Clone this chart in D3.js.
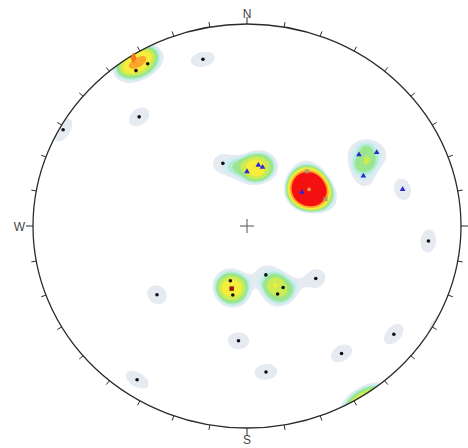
<!DOCTYPE html>
<html>
<head>
<meta charset="utf-8">
<script src="https://cdn.jsdelivr.net/npm/d3@7"></script>
<style>
  html, body { margin: 0; padding: 0; background: #fff; }
  svg { display: block; }
</style>
</head>
<body>
<svg id="net" width="468" height="448"></svg>
<script>
// ---- Measurements (trend / plunge in degrees, lower hemisphere) ----
// Poles to planes (black dots); count = coincident measurements
const poleTrend  = [330, 326, 346, 317, 299, 340, 231, 196, 191, 160, 151, 157, 129, 184, 128, 145, 214, 173, 95];
const polePlunge = [8,   8,   16,  27,  2,   63,  45,  67,  61.5, 69, 61.5, 60,  56,  42.5, 14, 24,  9,   28,  16];
const poleCount  = [1,   1,   1,   1,   1,   1,   1,   1,   1,   1,   1,   1,   1,   1,   1,   1,   1,   1,   1];

// Lineations (blue triangles)
const lineTrend  = [10, 14,   0,  57, 56, 59, 65.5, 76];
const linePlunge = [65, 65.5, 68, 65, 37, 30, 40,   26];
const lineCount  = [1,  1,    1,  1,  1,  1,  1,    1];

// Fold axes (dark red squares)
const axisTrend  = [193];
const axisPlunge = [64];
const axisCount  = [1];

// Intersections (tan squares)
const interTrend  = [46, 70];
const interPlunge = [58, 58];
const interCount  = [1, 1];

// Cluster centre (orange dot)
const clusterTrend  = [58];
const clusterPlunge = [62];
const clusterCount  = [8];

// Near-horizontal group (orange diamond)
const flatTrend  = [327.5];
const flatPlunge = [1.5];
const flatCount  = [2];

// Contour levels and fills
const levels = [0.85, 1.05, 1.25, 1.45, 1.85, 2.3, 3.0, 4.0];
const levelColors = ["#e6eaf1", "#d2eef3", "#b2ebd6", "#9be58c", "#cdec52", "#f7ee3c", "#fba62c", "#f41010"];

// Primitive ticks (azimuth, degrees)
const tickAz = d3.range(0, 360, 10);
const cardinals = [{az: 0, label: "N"}, {az: 180, label: "S"}, {az: 270, label: "W"}];

// ---- Geometry ----
const cx = 247, cy = 226, rx = 214, ry = 202;
const x = d3.scaleLinear().domain([-1, 1]).range([cx - rx, cx + rx]);
const y = d3.scaleLinear().domain([-1, 1]).range([cy + ry, cy - ry]);
const rad = Math.PI / 180;

// Equal-area (Schmidt) lower-hemisphere projection to the unit disk
function toDisk(trend, plunge) {
  const t = trend * rad, p = plunge * rad;
  const r = Math.SQRT2 * Math.sin((Math.PI / 2 - p) / 2);
  return [r * Math.sin(t), r * Math.cos(t)];
}
function toVec(trend, plunge) {
  const t = trend * rad, p = plunge * rad;
  return [Math.cos(p) * Math.sin(t), Math.cos(p) * Math.cos(t), Math.sin(p)];
}
function diskToVec(u, v) {
  const r = Math.hypot(u, v);
  if (r < 1e-9) return [0, 0, 1];
  const rc = Math.min(r, Math.SQRT2 - 1e-6);
  const th = 2 * Math.asin(rc / Math.SQRT2);
  const s = Math.sin(th);
  return [s * u / r, s * v / r, Math.cos(th)];
}

function zipSet(tr, pl, ct) {
  return tr.map((t, i) => ({trend: t, plunge: pl[i], count: ct[i]}));
}
const poles = zipSet(poleTrend, polePlunge, poleCount);
const lines = zipSet(lineTrend, linePlunge, lineCount);
const axes = zipSet(axisTrend, axisPlunge, axisCount);
const inters = zipSet(interTrend, interPlunge, interCount);
const clusters = zipSet(clusterTrend, clusterPlunge, clusterCount);
const flats = zipSet(flatTrend, flatPlunge, flatCount);
const all = [...poles, ...lines, ...axes, ...inters, ...clusters, ...flats];
const vecs = all.map(d => ({v: toVec(d.trend, d.plunge), w: d.count}));

// ---- Spherical density (axial, flat-topped kernel in angular distance) ----
const kernelWidth = 0.119;   // radians
const step = 2;
const x0 = cx - rx - 6, y0 = cy - ry - 6;
const nx = Math.ceil((2 * rx + 12) / step), ny = Math.ceil((2 * ry + 12) / step);
const grid = new Float64Array(nx * ny);
for (let j = 0; j < ny; j++) {
  for (let i = 0; i < nx; i++) {
    const px = x0 + (i + 0.5) * step, py = y0 + (j + 0.5) * step;
    const g = diskToVec(x.invert(px), y.invert(py));
    let s = 0;
    for (const d of vecs) {
      const c = Math.min(1, Math.abs(g[0] * d.v[0] + g[1] * d.v[1] + g[2] * d.v[2]));
      const a = Math.acos(c) / kernelWidth;
      if (a < 3) s += d.w * Math.exp(-a * a * a);
    }
    grid[i + j * nx] = s;
  }
}
const contours = d3.contours().size([nx, ny]).thresholds(levels)(grid);
const gridPath = d3.geoPath(d3.geoIdentity().scale(step).translate([x0, y0]));

// ---- Drawing ----
const svg = d3.select("#net");
svg.append("defs").append("clipPath").attr("id", "prim")
  .append("ellipse").attr("cx", cx).attr("cy", cy).attr("rx", rx).attr("ry", ry);

svg.append("g").attr("clip-path", "url(#prim)")
  .selectAll("path").data(contours).join("path")
  .attr("d", gridPath)
  .attr("fill", (d, i) => levelColors[i])
  .attr("stroke", "none");

// Primitive circle
svg.append("ellipse").attr("cx", cx).attr("cy", cy).attr("rx", rx).attr("ry", ry)
  .attr("fill", "none").attr("stroke", "#2b2b2b").attr("stroke-width", 1.3);

// Ticks every 10 degrees
svg.append("g").selectAll("line").data(tickAz).join("line")
  .attr("x1", a => cx + rx * Math.sin(a * rad))
  .attr("y1", a => cy - ry * Math.cos(a * rad))
  .attr("x2", a => { const L = a % 90 === 0 ? 7 : 5; return cx + (rx + L) * Math.sin(a * rad); })
  .attr("y2", a => { const L = a % 90 === 0 ? 7 : 5; return cy - (ry + L) * Math.cos(a * rad); })
  .attr("stroke", "#2b2b2b").attr("stroke-width", 1);

// Centre cross
const cs = 7;
svg.append("path")
  .attr("d", `M${x(0) - cs},${y(0)}H${x(0) + cs}M${x(0)},${y(0) - cs}V${y(0) + cs}`)
  .attr("stroke", "#555").attr("stroke-width", 1).attr("fill", "none");

// Markers
function pos(d) { const p = toDisk(d.trend, d.plunge); return [x(p[0]), y(p[1])]; }

svg.append("g").selectAll("circle").data(poles).join("circle")
  .attr("cx", d => pos(d)[0]).attr("cy", d => pos(d)[1])
  .attr("r", 1.8).attr("fill", "#111");

const tri = d3.symbol().type(d3.symbolTriangle).size(14);
svg.append("g").selectAll("path").data(lines).join("path")
  .attr("d", tri)
  .attr("transform", d => `translate(${pos(d)[0]},${pos(d)[1]})`)
  .attr("fill", "#2a2ad0");

const sq = d3.symbol().type(d3.symbolSquare).size(20);
svg.append("g").selectAll("path").data(inters).join("path")
  .attr("d", sq)
  .attr("transform", d => `translate(${pos(d)[0]},${pos(d)[1]})`)
  .attr("fill", "#a89470").attr("fill-opacity", 0.75);

svg.append("g").selectAll("path").data(axes).join("path")
  .attr("d", sq)
  .attr("transform", d => `translate(${pos(d)[0]},${pos(d)[1]})`)
  .attr("fill", "#8e1a12");

svg.append("g").selectAll("circle").data(clusters).join("circle")
  .attr("cx", d => pos(d)[0]).attr("cy", d => pos(d)[1])
  .attr("r", 1.8).attr("fill", "#f0a040");

const dia = d3.symbol().type(d3.symbolDiamond).size(36);
svg.append("g").selectAll("path").data(flats).join("path")
  .attr("d", dia)
  .attr("transform", d => `translate(${pos(d)[0]},${pos(d)[1]})`)
  .attr("fill", "#f27a1a");

// Cardinal labels
svg.append("g").selectAll("text").data(cardinals).join("text")
  .attr("x", d => d.az === 270 ? cx - rx - 8 : cx)
  .attr("y", d => d.az === 0 ? cy - ry - 6 : d.az === 180 ? cy + ry + 16 : cy + 4.5)
  .attr("text-anchor", d => d.az === 270 ? "end" : "middle")
  .attr("font-family", "Liberation Sans, Arial, sans-serif")
  .attr("font-size", 12)
  .attr("fill", "#444")
  .text(d => d.label);
</script>
</body>
</html>
